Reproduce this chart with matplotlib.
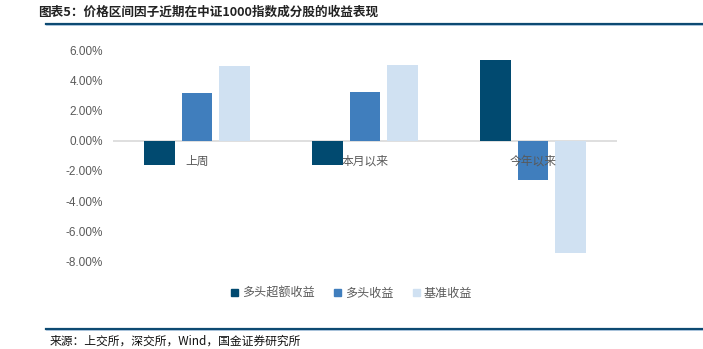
import numpy as np
import matplotlib
matplotlib.use("Agg")
import matplotlib.pyplot as plt
from matplotlib.patches import Patch
from matplotlib.lines import Line2D

plt.rcParams["font.family"] = ["Noto Sans CJK SC", "DejaVu Sans"]

categories = ["上周", "本月以来", "今年以来"]
series_names = ["多头超额收益", "多头收益", "基准收益"]
excess = [-1.62, -1.60, 5.35]
long_ret = [3.18, 3.20, -2.62]
bench = [4.97, 4.99, -7.45]
yticks = [6, 4, 2, 0, -2, -4, -6, -8]

colors = ["#014a70", "#407ebd", "#d0e1f2"]
GRAY = "#595959"

fig = plt.figure(figsize=(7.03, 3.49), dpi=100)
ax = fig.add_axes([0.1607, 0.2504, 0.717, 0.6063])

x = np.arange(len(categories))
step, w = 0.223, 0.18
for i, (vals, c) in enumerate(zip([excess, long_ret, bench], colors)):
    ax.bar(x + (i - 1) * step, vals, w, color=c, zorder=2)

ax.set_xlim(-0.5, 2.5)
ax.set_ylim(-8, 6)
ax.axhline(0, color="#d9d9d9", lw=1.2, zorder=1)
for s in ax.spines.values():
    s.set_visible(False)
ax.set_xticks([])
ax.set_yticks(yticks)
ax.set_yticklabels([f"{v:.2f}%" for v in yticks], family="Liberation Sans",
                   fontsize=8.5, color=GRAY)
ax.tick_params(axis="y", length=0, pad=7)

# category names sit just under the zero line, over the bars
for xi, lab in zip(x, categories):
    ax.annotate(lab, (xi, 0), xytext=(0, -15), textcoords="offset points",
                ha="center", va="center", fontsize=8.5, color=GRAY, zorder=5)

handles = [Patch(color=c) for c in colors]
fig.legend(handles, series_names, loc="center", bbox_to_anchor=(0.5, 0.16),
           ncol=3, frameon=False, fontsize=8.7, labelcolor=GRAY,
           handlelength=0.6, handleheight=0.6, handletextpad=0.3,
           columnspacing=1.6)

# header and footer rules
for yy in (1 - 23.5 / 349, 1 - 329 / 349):
    fig.add_artist(Line2D([46 / 703, 1], [yy, yy], color="#0d4a72", lw=1.6))
    fig.add_artist(Line2D([46 / 703, 1], [yy - 0.004, yy - 0.004],
                          color="#9dbbd6", lw=0.6))

fig.text(38 / 703, 1 - 12 / 349, "图表5：价格区间因子近期在中证1000指数成分股的收益表现",
         fontsize=9.1, fontweight="bold", color="#222222", va="center", ha="left")
fig.text(50 / 703, 1 - 341 / 349, "来源：上交所，深交所，Wind，国金证券研究所",
         fontsize=8.5, color="#111111", va="center", ha="left")

fig.savefig("out.png", dpi=100)
